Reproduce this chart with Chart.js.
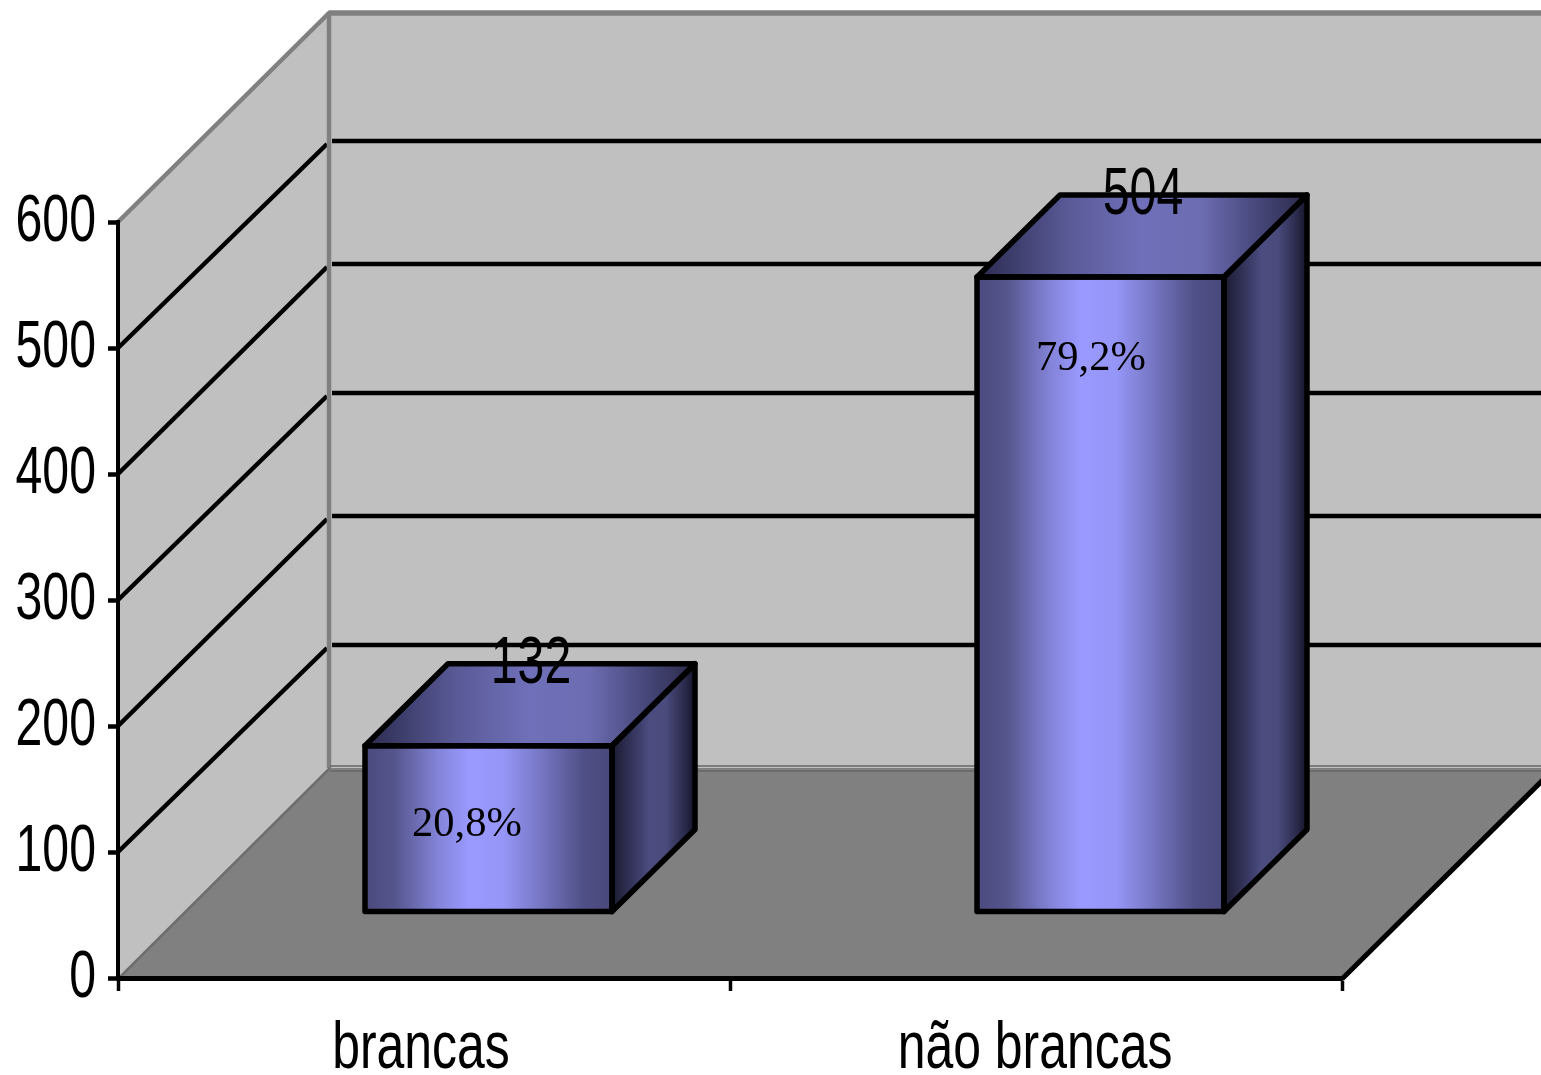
<!DOCTYPE html>
<html><head><meta charset="utf-8">
<style>html,body{margin:0;padding:0;background:#fff;overflow:hidden}canvas{display:block}</style>
<script src="https://cdn.jsdelivr.net/npm/chart.js@4"></script>
</head><body><canvas id="c" width="1541" height="1075"></canvas>
<script>
const categories = ['brancas', 'não brancas'];
const values = [132, 504];
const percentLabels = ['20,8%', '79,2%'];
const yMax = 600;
const yStep = 100;

// projection of the fake 3D box
const wallX = 212, wallY = 210, barShiftX = 64.5, barShiftY = -66, boxX = 83, boxY = -82;
const sans = '"Liberation Sans", Arial, sans-serif';
const digitSqueeze = 0.72, wordSqueeze = 0.745;

function narrowText(ctx, text, x, y, size, squeeze, align) {
  ctx.save();
  ctx.font = size + 'px ' + sans;
  ctx.fillStyle = '#000';
  ctx.textBaseline = 'alphabetic';
  ctx.textAlign = align;
  ctx.translate(x, y);
  ctx.scale(squeeze, 1);
  ctx.fillText(text, 0, 0);
  ctx.restore();
}
function poly(ctx, pts, fill, stroke, lw) {
  ctx.beginPath();
  pts.forEach((p, i) => i ? ctx.lineTo(p[0], p[1]) : ctx.moveTo(p[0], p[1]));
  ctx.closePath();
  if (fill) { ctx.fillStyle = fill; ctx.fill(); }
  if (stroke) { ctx.strokeStyle = stroke; ctx.lineWidth = lw; ctx.lineJoin = 'round'; ctx.stroke(); }
}
function seg(ctx, a, b, color, lw) {
  ctx.beginPath(); ctx.moveTo(a[0], a[1]); ctx.lineTo(b[0], b[1]);
  ctx.strokeStyle = color; ctx.lineWidth = lw; ctx.stroke();
}
function grad(ctx, x0, x1, stops) {
  const g = ctx.createLinearGradient(x0, 0, x1, 0);
  stops.forEach(s => g.addColorStop(s[0], s[1]));
  return g;
}
const frontStops = [[0,'#4a4a7e'],[0.12,'#55558c'],[0.3,'#8484da'],[0.42,'#9999ff'],[0.56,'#9696f8'],[0.72,'#7474c0'],[0.88,'#505088'],[1,'#48487a']];
const topStops = [[0,'#2b2b4f'],[0.28,'#5a5a98'],[0.5,'#7070ba'],[0.68,'#6c6cb2'],[0.85,'#47477a'],[1,'#2a2a4a']];
const sideStops = [[0,'#1b1b30'],[0.3,'#3a3a66'],[0.45,'#4c4c80'],[0.65,'#4a4a7c'],[0.85,'#2e2e52'],[1,'#15152a']];

const walls = {
  id: 'walls',
  beforeDraw(chart) {
    const { ctx, scales: { x, y } } = chart;
    const L = x.left, R = x.right, B = y.getPixelForValue(0), T = y.getPixelForValue(yMax);
    const W = chart.width;
    ctx.save();
    poly(ctx, [[L, T], [L + wallX, T - wallY], [L + wallX, B - wallY], [L, B]], '#c0c0c0');
    ctx.fillStyle = '#c0c0c0';
    ctx.fillRect(L + wallX, T - wallY, W - L - wallX, B - T);
    poly(ctx, [[L, B], [R, B], [R + wallX, B - wallY], [L + wallX, B - wallY]], '#808080');
    // grid lines on side and back wall
    y.ticks.forEach(t => {
      if (t.value === 0 || t.value === yMax) return;
      const py = y.getPixelForValue(t.value);
      const rise = (t.value / yStep) % 2 ? wallY - 3 : wallY;
      seg(ctx, [L, py], [L + wallX - 3, py - rise + 3], '#000', 4.5);
      seg(ctx, [L + wallX + 2, py - rise], [W, py - rise], '#000', 4.5);
    });
    // wall edges
    seg(ctx, [L, T], [L + wallX, T - wallY], '#808080', 4.5);
    seg(ctx, [L + wallX - 1, T - wallY + 1], [W, T - wallY + 1], '#808080', 5.5);
    seg(ctx, [L + wallX - 1, T - wallY], [L + wallX - 1, B - wallY], '#808080', 4.5);
    seg(ctx, [L + 2, B - 1], [L + wallX, B - wallY], '#6e6e6e', 2.5);
    seg(ctx, [L + wallX, B - wallY - 2], [W, B - wallY - 2], '#666666', 1.5);
    seg(ctx, [L + wallX, B - wallY + 3], [W, B - wallY + 3], '#666666', 1.5);
    seg(ctx, [R, B + 1], [R + wallX, B - wallY + 1], '#000', 5);
    ctx.restore();
  },
  beforeDatasetDraw(chart) {
    chart.ctx.save();
    chart.ctx.translate(barShiftX, barShiftY);
  },
  afterDatasetDraw(chart) {
    chart.ctx.restore();
  },
  afterDatasetsDraw(chart) {
    const { ctx } = chart;
    const meta = chart.getDatasetMeta(0);
    ctx.save();
    meta.data.forEach((bar, i) => {
      const l = bar.x - bar.width / 2 + barShiftX, r = bar.x + bar.width / 2 + barShiftX;
      const t = bar.y + barShiftY, b = bar.base + barShiftY;
      poly(ctx, [[l, t], [r, t], [r + boxX, t + boxY], [l + boxX, t + boxY]], grad(ctx, l, r + boxX, topStops));
      poly(ctx, [[r, t], [r + boxX, t + boxY], [r + boxX, b + boxY], [r, b]], grad(ctx, r, r + boxX, sideStops));
      poly(ctx, [[l, t], [r, t], [r, b], [l, b]], null, '#000', 5.5);
      poly(ctx, [[l, t], [r, t], [r + boxX, t + boxY], [l + boxX, t + boxY]], null, '#000', 5.5);
      poly(ctx, [[r, t], [r + boxX, t + boxY], [r + boxX, b + boxY], [r, b]], null, '#000', 5.5);
      // value label
      narrowText(ctx, String(values[i]), l + 166, t + boxY + 19, 67, digitSqueeze, 'center');
      // percent label
      ctx.font = '42.5px "Liberation Serif", "Times New Roman", serif';
      ctx.fillStyle = '#000';
      ctx.textAlign = 'center';
      ctx.textBaseline = 'alphabetic';
      ctx.fillText(percentLabels[i], i === 0 ? l + 102 : l + 114, i === 0 ? t + 90 : t + 93);
    });
    ctx.restore();
  },
  afterDraw(chart) {
    const { ctx, scales: { x, y } } = chart;
    y.ticks.forEach(t => {
      narrowText(ctx, t.label, x.left - 22, y.getPixelForValue(t.value) + 19, 67, digitSqueeze, 'right');
    });
    x.ticks.forEach((t, i) => {
      narrowText(ctx, t.label, x.getPixelForValue(i) - 3 + i * 2, 1068, 67, wordSqueeze, 'center');
    });
  }
};

new Chart(document.getElementById('c'), {
  type: 'bar',
  data: {
    labels: categories,
    datasets: [{
      data: values,
      barThickness: 247,
      borderWidth: 0,
      backgroundColor(c) {
        const sx = c.chart.scales.x;
        const px = sx ? sx.getPixelForValue(c.dataIndex) : NaN;
        if (!Number.isFinite(px)) return '#9999ff';
        return grad(c.chart.ctx, px - 124, px + 124, frontStops);
      }
    }]
  },
  plugins: [walls],
  options: {
    responsive: false,
    animation: false,
    clip: false,
    layout: { padding: { top: 222, right: 199, left: 0, bottom: 0 } },
    plugins: { legend: { display: false }, tooltip: { enabled: false }, title: { display: false } },
    scales: {
      x: {
        afterFit(s) { s.height = 97; },
        grid: { drawOnChartArea: false, drawTicks: true, tickLength: 13, tickColor: '#000', tickWidth: 3.5, offset: true },
        border: { color: '#000', width: 5 },
        ticks: { display: false }
      },
      y: {
        min: 0, max: yMax,
        afterFit(s) { s.width = 118; },
        grid: { drawOnChartArea: false, drawTicks: true, tickLength: 10, tickColor: '#000', tickWidth: 4.5 },
        border: { color: '#000', width: 4 },
        ticks: { display: false, stepSize: yStep }
      }
    }
  }
});
</script></body></html>
